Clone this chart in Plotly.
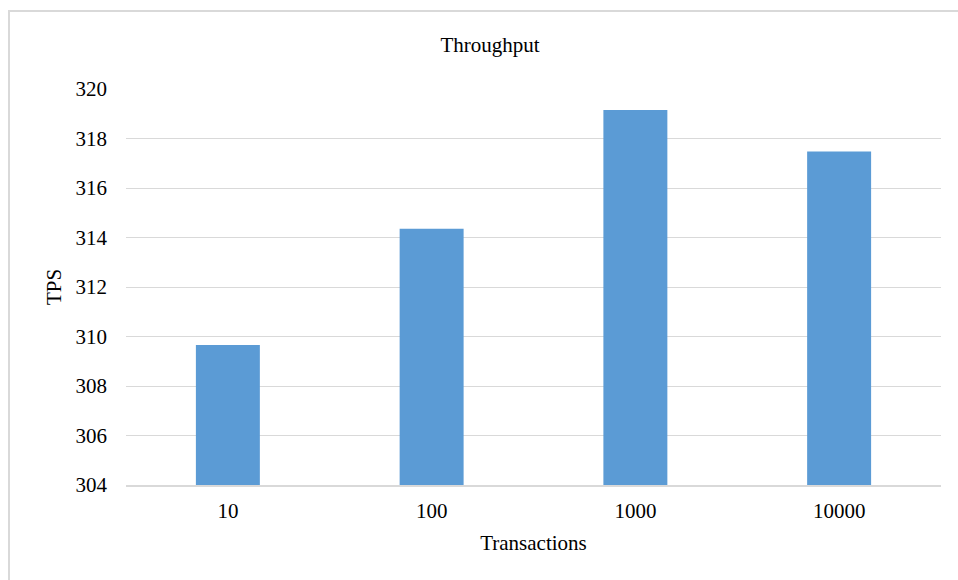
import plotly.graph_objects as go

# Throughput (transactions per second) by batch size
categories = ["10", "100", "1000", "10000"]
tps = [309.66, 314.35, 319.15, 317.47]
y_ticks = [304, 306, 308, 310, 312, 314, 316, 318, 320]

W, H = 958, 580
L, R, T, B = 126, 17, 89, 95
plot_w = W - L - R
plot_h = H - T - B

font_family = "Liberation Serif, Times New Roman, serif"
grid_col = "#d9d9d9"
fs = 21

fig = go.Figure(
    go.Bar(
        x=categories,
        y=tps,
        marker=dict(color="#5b9bd5", line=dict(width=0)),
        hoverinfo="x+y",
    )
)

# outer chart-area frame (open on the right and bottom)
fx0 = (9 - L) / plot_w
fy1 = (H - B - 11) / plot_h
fig.add_shape(
    type="rect", xref="paper", yref="paper",
    x0=fx0, x1=1.2, y0=-0.4, y1=fy1,
    line=dict(color=grid_col, width=2), fillcolor="rgba(0,0,0,0)",
    layer="below",
)

fig.update_layout(
    width=W, height=H,
    margin=dict(l=L, r=R, t=T, b=B, pad=0),
    paper_bgcolor="white", plot_bgcolor="white",
    font=dict(family=font_family, size=fs, color="#000000"),
    showlegend=False,
    bargap=0.686,
    title=dict(
        text="Throughput", xref="container", yref="container",
        x=490 / W, y=1 - 45 / H, xanchor="center", yanchor="middle",
        font=dict(size=fs, family=font_family, color="#000000"),
    ),
    xaxis=dict(
        type="category",
        showgrid=False, zeroline=False,
        showline=True, linecolor=grid_col, linewidth=2,
        ticks="", ticklabelstandoff=6,
        tickfont=dict(size=fs),
        title=dict(text="Transactions", standoff=13, font=dict(size=fs)),
    ),
    yaxis=dict(
        range=[304, 320],
        tickvals=y_ticks,
        showgrid=True, gridcolor=grid_col, gridwidth=1,
        zeroline=False, showline=False,
        ticks="", ticklabelstandoff=18,
        tickfont=dict(size=fs),
        title=dict(text="TPS", standoff=8, font=dict(size=fs)),
    ),
)

fig.write_html("out.html")
